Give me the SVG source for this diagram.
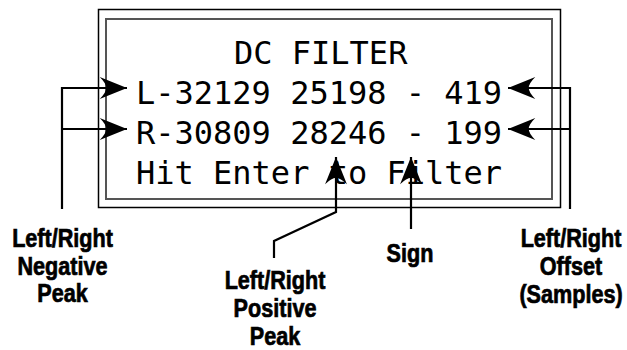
<svg xmlns="http://www.w3.org/2000/svg" width="627" height="350" viewBox="0 0 627 350">
<style>
.lcd{font-family:"DejaVu Sans Mono","Liberation Mono",monospace;font-size:32px;fill:#000}
.lbl{font-family:"Liberation Sans",Arial,sans-serif;font-weight:bold;font-size:21.6px;fill:#000;stroke:#000;stroke-width:0.6;text-anchor:middle}
.con{fill:none;stroke:#000;stroke-width:2.2}
</style>
<defs>
<marker id="ah" markerUnits="userSpaceOnUse" markerWidth="30" markerHeight="24" viewBox="-25 -11 26 22" refX="0" refY="0" orient="auto">
<path d="M0,0 L-25,-10 Q-19,-4 -19,0 Q-19,4 -25,10 Z" fill="#000"/>
</marker>
</defs>
<g id="display">
<rect x="98.5" y="9.5" width="462" height="198" fill="#fff" stroke="#000" stroke-width="1.5"/>
<rect x="106" y="19" width="446" height="180" fill="none" stroke="#555" stroke-width="2"/>
<text class="lcd" x="234" y="64">DC FILTER</text>
<text class="lcd" x="136" y="104">L-32129 25198 - 419</text>
<text class="lcd" x="136" y="144">R-30809 28246 - 199</text>
<text class="lcd" x="136" y="184">Hit Enter to Filter</text>
</g>
<g id="connectors">
<path class="con" d="M62,209 V88 H127" marker-end="url(#ah)"/>
<path class="con" d="M62,129 H127" marker-end="url(#ah)"/>
<path class="con" d="M570,209 V88 H508" marker-end="url(#ah)"/>
<path class="con" d="M570,129 H508" marker-end="url(#ah)"/>
<path class="con" d="M274,258 V241 L336,212 V157" marker-end="url(#ah)"/>
<path class="con" d="M411,229 V157" marker-end="url(#ah)"/>
</g>
<g id="label-negative">
<text class="lbl" transform="translate(62.5,247) scale(1,1.23)">Left/Right</text>
<text class="lbl" transform="translate(62.5,275) scale(1,1.23)">Negative</text>
<text class="lbl" transform="translate(62.5,302) scale(1,1.23)">Peak</text>
</g>
<g id="label-positive">
<text class="lbl" transform="translate(275,289) scale(1,1.23)">Left/Right</text>
<text class="lbl" transform="translate(275,317) scale(1,1.23)">Positive</text>
<text class="lbl" transform="translate(275,345) scale(1,1.23)">Peak</text>
</g>
<g id="label-sign">
<text class="lbl" transform="translate(410,262) scale(1,1.23)">Sign</text>
</g>
<g id="label-offset">
<text class="lbl" transform="translate(571,247) scale(1,1.23)">Left/Right</text>
<text class="lbl" transform="translate(571,275) scale(1,1.23)">Offset</text>
<text class="lbl" transform="translate(571,303) scale(1,1.23)">(Samples)</text>
</g>
</svg>
